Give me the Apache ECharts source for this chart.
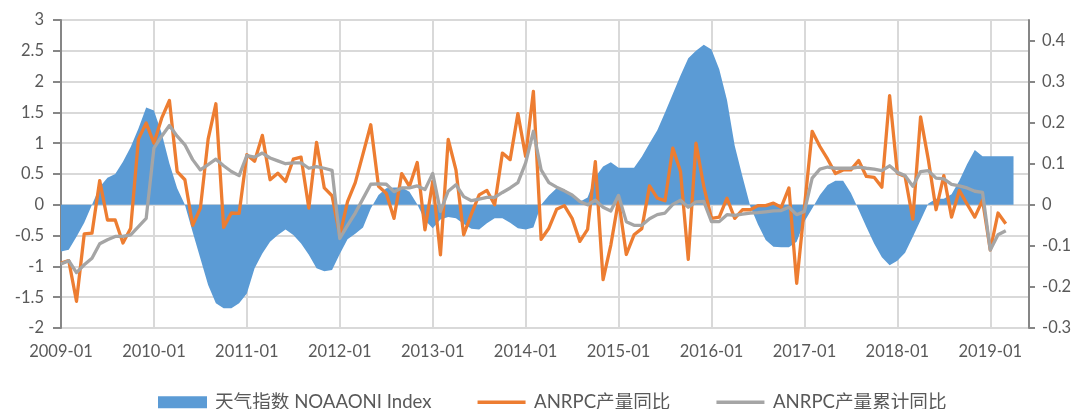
<!DOCTYPE html>
<html>
<head>
<meta charset="utf-8">
<script src="https://cdn.jsdelivr.net/npm/echarts@6/dist/echarts.min.js"></script>
<style>
  html, body { margin: 0; padding: 0; background: #fff; }
  #chart { width: 1082px; height: 409px; }
</style>
</head>
<body>
<div id="chart"></div>
<script>
// monthly categories, 2009-01 .. 2019-06
var months = [
  '2009-01','2009-02','2009-03','2009-04','2009-05','2009-06','2009-07','2009-08','2009-09','2009-10','2009-11','2009-12',
  '2010-01','2010-02','2010-03','2010-04','2010-05','2010-06','2010-07','2010-08','2010-09','2010-10','2010-11','2010-12',
  '2011-01','2011-02','2011-03','2011-04','2011-05','2011-06','2011-07','2011-08','2011-09','2011-10','2011-11','2011-12',
  '2012-01','2012-02','2012-03','2012-04','2012-05','2012-06','2012-07','2012-08','2012-09','2012-10','2012-11','2012-12',
  '2013-01','2013-02','2013-03','2013-04','2013-05','2013-06','2013-07','2013-08','2013-09','2013-10','2013-11','2013-12',
  '2014-01','2014-02','2014-03','2014-04','2014-05','2014-06','2014-07','2014-08','2014-09','2014-10','2014-11','2014-12',
  '2015-01','2015-02','2015-03','2015-04','2015-05','2015-06','2015-07','2015-08','2015-09','2015-10','2015-11','2015-12',
  '2016-01','2016-02','2016-03','2016-04','2016-05','2016-06','2016-07','2016-08','2016-09','2016-10','2016-11','2016-12',
  '2017-01','2017-02','2017-03','2017-04','2017-05','2017-06','2017-07','2017-08','2017-09','2017-10','2017-11','2017-12',
  '2018-01','2018-02','2018-03','2018-04','2018-05','2018-06','2018-07','2018-08','2018-09','2018-10','2018-11','2018-12',
  '2019-01','2019-02','2019-03','2019-04','2019-05','2019-06'
];

// 天气指数 NOAAONI Index (left axis)
var oniIndex = [
  -0.76, -0.73, -0.52, -0.29, 0.0, 0.29, 0.44, 0.5, 0.7, 0.94, 1.24, 1.58,
  1.53, 1.16, 0.67, 0.27, 0.0, -0.44, -0.87, -1.3, -1.6, -1.68, -1.68, -1.6,
  -1.44, -1.03, -0.79, -0.6, -0.49, -0.4, -0.49, -0.63, -0.81, -1.03, -1.08, -1.06,
  -0.8, -0.56, -0.47, -0.37, -0.06, 0.16, 0.27, 0.28, 0.28, 0.21, 0.01, -0.25,
  -0.38, -0.24, -0.2, -0.22, -0.31, -0.39, -0.4, -0.3, -0.22, -0.22, -0.29, -0.38,
  -0.4, -0.37, 0.0, 0.15, 0.27, 0.25, 0.17, 0.05, 0.12, 0.45, 0.62, 0.69,
  0.6, 0.6, 0.6, 0.78, 1.0, 1.21, 1.5, 1.8, 2.1, 2.38, 2.5, 2.6,
  2.52, 2.2, 1.7, 0.96, 0.46, -0.02, -0.32, -0.57, -0.68, -0.69, -0.69, -0.6,
  -0.27, -0.06, 0.16, 0.32, 0.39, 0.39, 0.19, -0.08, -0.36, -0.63, -0.85, -0.98,
  -0.91, -0.78, -0.52, -0.25, 0.02, 0.1, 0.1, 0.17, 0.39, 0.66, 0.89, 0.79,
  0.79, 0.79, 0.79, 0.79
];

// ANRPC产量同比 (right axis)
var outputYoy = [
  -0.142, -0.136, -0.235, -0.071, -0.069, 0.059, -0.037, -0.037, -0.093, -0.057, 0.16, 0.199,
  0.15, 0.211, 0.254, 0.081, 0.061, -0.05, -0.008, 0.16, 0.246, -0.055, -0.02, -0.021,
  0.122, 0.106, 0.169, 0.061, 0.077, 0.057, 0.111, 0.116, -0.008, 0.152, 0.041, 0.022,
  -0.075, 0.008, 0.054, 0.124, 0.195, 0.045, 0.028, -0.033, 0.076, 0.045, 0.103, -0.061,
  0.057, -0.122, 0.159, 0.085, -0.073, -0.022, 0.024, 0.035, 0.0, 0.126, 0.11, 0.222,
  0.118, 0.276, -0.084, -0.057, -0.011, -0.002, -0.033, -0.089, -0.06, 0.105, -0.182, -0.098,
  0.012, -0.121, -0.073, -0.058, 0.046, 0.016, 0.01, 0.138, 0.081, -0.133, 0.15, 0.045,
  -0.033, -0.03, 0.016, -0.033, -0.012, -0.012, -0.002, -0.002, 0.004, -0.006, 0.041, -0.191,
  -0.006, 0.179, 0.142, 0.111, 0.076, 0.085, 0.085, 0.108, 0.069, 0.067, 0.043, 0.266,
  0.077, 0.069, -0.035, 0.214, 0.11, -0.012, 0.071, -0.03, 0.035, 0.002, -0.03, 0.011,
  -0.11, -0.02, -0.046
];

// ANRPC产量累计同比 (right axis)
var cumulativeYoy = [
  -0.144, -0.136, -0.165, -0.146, -0.13, -0.095, -0.085, -0.077, -0.077, -0.073, -0.053, -0.033,
  0.138, 0.167, 0.193, 0.167, 0.146, 0.11, 0.085, 0.098, 0.111, 0.095, 0.081, 0.071,
  0.12, 0.116, 0.126, 0.114, 0.107, 0.1, 0.102, 0.102, 0.089, 0.093, 0.089, 0.084,
  -0.082, -0.05, -0.02, 0.015, 0.05, 0.051, 0.05, 0.032, 0.041, 0.041, 0.046, 0.037,
  0.076, -0.016, 0.033, 0.049, 0.02, 0.01, 0.014, 0.018, 0.018, 0.03, 0.041, 0.054,
  0.102, 0.179, 0.085, 0.054, 0.043, 0.034, 0.024, 0.008, 0.0, 0.011, -0.006, -0.015,
  0.023, -0.041, -0.05, -0.05, -0.034, -0.024, -0.02, 0.001, 0.011, -0.006, 0.007, 0.008,
  -0.041, -0.041, -0.024, -0.026, -0.023, -0.02, -0.019, -0.017, -0.015, -0.014, -0.006, -0.024,
  -0.016, 0.065, 0.087, 0.092, 0.089, 0.089, 0.089, 0.092, 0.089, 0.087, 0.083, 0.095,
  0.079, 0.071, 0.045, 0.081, 0.083, 0.065, 0.063, 0.05, 0.046, 0.041, 0.033, 0.03,
  -0.11, -0.073, -0.063
];

var seriesNames = ['天气指数 NOAAONI Index', 'ANRPC产量同比', 'ANRPC产量累计同比'];

var fontFamily = 'Lato, "Noto Sans CJK SC", sans-serif';
var textColor = '#595959';
// thin bar centred in a 48x12 box (the tiny corner bits keep the box size)
var lineIcon = 'path://M0,0L0.05,0L0.05,0.05Z M0,4.2L48,4.2L48,7.8L0,7.8Z M0,12L0.05,12L0.05,11.95Z';

var chart = echarts.init(document.getElementById('chart'));

var option = {
  animation: false,
  grid: { left: 61, right: 53, top: 20, bottom: 81 },
  legend: {
    top: 393,
    left: 158,
    padding: 0,
    itemGap: 46,
    itemWidth: 49,
    itemHeight: 12,
    textStyle: { color: textColor, fontSize: 18.6, fontFamily: fontFamily, padding: [0, 0, 0, 3] },
    data: [
      { name: seriesNames[0], icon: 'rect' },
      { name: seriesNames[1], icon: lineIcon },
      { name: seriesNames[2], icon: lineIcon }
    ]
  },
  xAxis: {
    type: 'category',
    data: months,
    boundaryGap: false,
    axisLine: { show: false },
    axisTick: { show: false },
    axisLabel: {
      interval: 11,
      margin: 15,
      color: textColor,
      fontSize: 16.5,
      fontFamily: fontFamily
    },
    splitLine: {
      show: true,
      interval: 11,
      lineStyle: { color: '#d9d9d9', width: 2 }
    }
  },
  yAxis: [
    {
      type: 'value',
      min: -2,
      max: 3,
      interval: 0.5,
      axisLine: { show: true, lineStyle: { color: '#868686', width: 2 } },
      axisTick: { show: true, length: 8, lineStyle: { color: '#868686', width: 2 } },
      axisLabel: { margin: 17, color: textColor, fontSize: 16.5, fontFamily: fontFamily },
      splitLine: { show: true, lineStyle: { color: '#d9d9d9', width: 2 } }
    },
    {
      type: 'value',
      min: -0.3,
      max: 0.45,
      interval: 0.1,
      position: 'right',
      axisLine: { show: true, lineStyle: { color: '#868686', width: 2 } },
      axisTick: { show: true, length: 6, lineStyle: { color: '#868686', width: 2 } },
      axisLabel: {
        margin: 13,
        showMaxLabel: false,
        color: textColor,
        fontSize: 16.5,
        fontFamily: fontFamily,
        formatter: function (v) { return String(+v.toFixed(1)); }
      },
      splitLine: { show: false }
    }
  ],
  series: [
    {
      name: seriesNames[0],
      type: 'line',
      yAxisIndex: 0,
      data: oniIndex,
      symbol: 'none',
      color: '#5b9bd5',
      lineStyle: { width: 0 },
      areaStyle: { color: '#5b9bd5', opacity: 1 }
    },
    {
      name: seriesNames[1],
      type: 'line',
      yAxisIndex: 1,
      data: outputYoy,
      symbol: 'none',
      color: '#ed7d31',
      lineStyle: { width: 3.3, color: '#ed7d31', join: 'round' }
    },
    {
      name: seriesNames[2],
      type: 'line',
      yAxisIndex: 1,
      data: cumulativeYoy,
      symbol: 'none',
      color: '#a5a5a5',
      lineStyle: { width: 3.3, color: '#a5a5a5', join: 'round' }
    }
  ]
};

chart.setOption(option);
</script>
</body>
</html>
